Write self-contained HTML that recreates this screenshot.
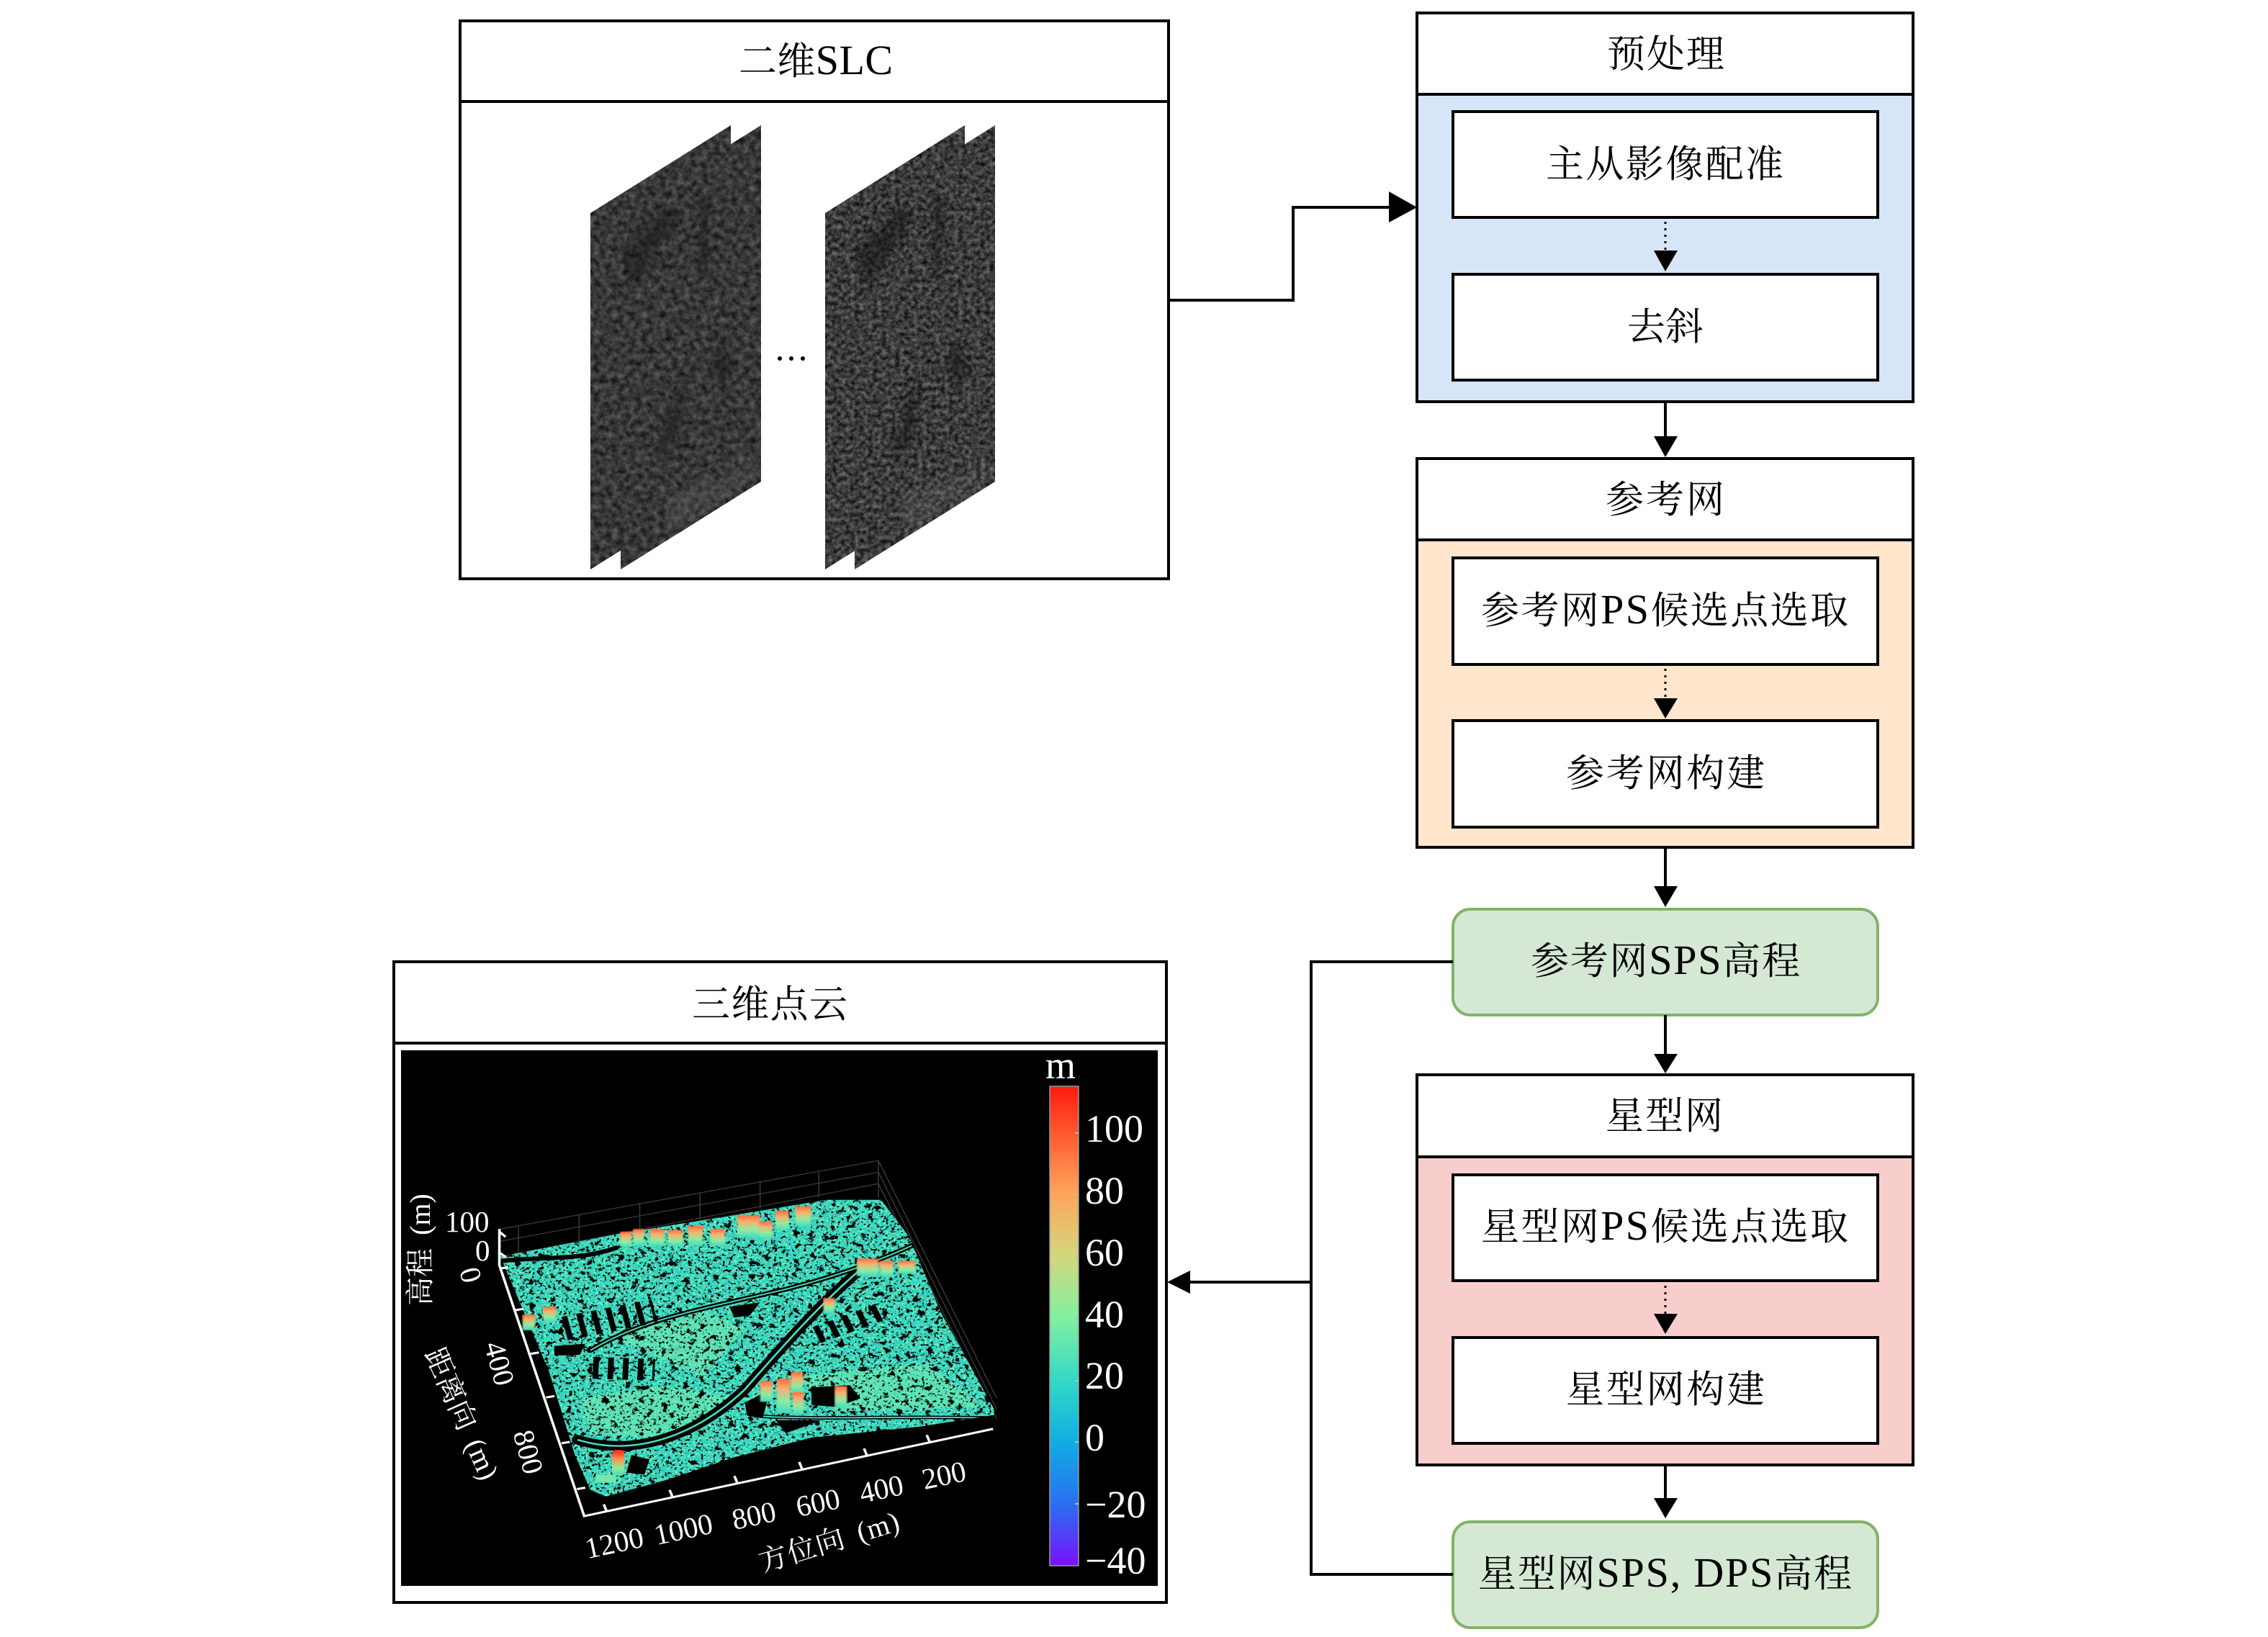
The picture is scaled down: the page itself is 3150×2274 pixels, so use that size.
<!DOCTYPE html>
<html>
<head>
<meta charset="utf-8">
<style>
html,body{margin:0;padding:0;background:#fff;width:3150px;height:2274px;overflow:hidden}
svg{display:block}
.t{font-family:"Liberation Serif","Noto Serif CJK SC",serif;font-size:53px;fill:#000}
.t tspan{font-size:58px}
.w{font-family:"Liberation Serif","Noto Serif CJK SC",serif;fill:#fff}
.b{fill:#fff;stroke:#000;stroke-width:4}
.l{fill:none;stroke:#000;stroke-width:4}
</style>
</head>
<body>
<svg width="3150" height="2274" viewBox="0 0 3150 2274" xmlns="http://www.w3.org/2000/svg">
<defs>
<filter id="sar1" x="0" y="0" width="1" height="1" color-interpolation-filters="sRGB">
<feTurbulence type="fractalNoise" baseFrequency="0.12" numOctaves="4" seed="7"/>
<feColorMatrix type="matrix" values=".4 0 0 0 .02  .4 0 0 0 .02  .4 0 0 0 .02  0 0 0 0 1"/>
</filter>
<filter id="sar2" x="0" y="0" width="1" height="1" color-interpolation-filters="sRGB">
<feTurbulence type="fractalNoise" baseFrequency="0.16" numOctaves="4" seed="11"/>
<feColorMatrix type="matrix" values=".55 0 0 0 -.04  .55 0 0 0 -.04  .55 0 0 0 -.04  0 0 0 0 1"/>
</filter>
<filter id="speck" x="0" y="0" width="1" height="1" color-interpolation-filters="sRGB">
<feTurbulence type="fractalNoise" baseFrequency="0.17" numOctaves="2" seed="5"/>
<feColorMatrix type="matrix" values="0 0 0 0 0  0 0 0 0 0  0 0 0 0 0  14 0 0 0 -8.7"/>
</filter>
<filter id="speck2" x="0" y="0" width="1" height="1" color-interpolation-filters="sRGB">
<feTurbulence type="fractalNoise" baseFrequency="0.07" numOctaves="4" seed="21"/>
<feColorMatrix type="matrix" values="0 0 0 0 0  0 0 0 0 0  0 0 0 0 0  12 0 0 0 -7.4"/>
</filter>
<filter id="tone" x="0" y="0" width="1" height="1" color-interpolation-filters="sRGB">
<feTurbulence type="fractalNoise" baseFrequency="0.2" numOctaves="2" seed="9"/>
<feColorMatrix type="matrix" values="0 0 0 0 0.5  0 0 0 0 0.95  0 0 0 0 0.68  5 0 0 0 -2.5"/>
</filter>
<filter id="soft" x="-20%" y="-20%" width="140%" height="140%"><feGaussianBlur stdDeviation="5"/></filter>
<filter id="mild" x="-20%" y="-20%" width="140%" height="140%"><feGaussianBlur stdDeviation="1.5"/></filter>
<clipPath id="p1"><polygon points="820,296 1015,174 1015,669 820,791"/></clipPath>
<clipPath id="p2"><polygon points="862,296 1057,174 1057,669 862,791"/></clipPath>
<clipPath id="p3"><polygon points="1146,296 1340,174 1340,669 1146,791"/></clipPath>
<clipPath id="p4"><polygon points="1187,296 1382,174 1382,669 1187,791"/></clipPath>
<clipPath id="surf"><polygon points="245,735 480,682 700,640 880,605 985,605 1040,690 1100,860 1205,1085 1205,1098 1060,1125 850,1150 700,1195 560,1250 450,1285 420,1270 390,1190 340,1000 290,860"/></clipPath>
<linearGradient id="cb" x1="0" y1="0" x2="0" y2="1">
<stop offset="0" stop-color="#ff1a0d"/><stop offset=".1" stop-color="#ff5a30"/><stop offset=".22" stop-color="#ffa35a"/><stop offset=".35" stop-color="#d4d67c"/><stop offset=".48" stop-color="#84f0a0"/><stop offset=".62" stop-color="#2fd8c8"/><stop offset=".74" stop-color="#10aee2"/><stop offset=".87" stop-color="#2a70f0"/><stop offset="1" stop-color="#7a10ff"/>
</linearGradient>
<linearGradient id="bd" x1="0" y1="0" x2="0" y2="1">
<stop offset="0" stop-color="#ff6a3a"/><stop offset=".3" stop-color="#f8b070"/><stop offset=".65" stop-color="#90ecA0"/><stop offset="1" stop-color="#40dcc0"/>
</linearGradient>
<linearGradient id="bdr" x1="0" y1="0" x2="0" y2="1">
<stop offset="0" stop-color="#ff2010"/><stop offset=".35" stop-color="#ff9050"/><stop offset=".7" stop-color="#90eca0"/><stop offset="1" stop-color="#40dcc0"/>
</linearGradient>
</defs>

<!-- 二维SLC -->
<rect class="b" x="639" y="29" width="984" height="775"/>
<line class="l" x1="639" y1="141" x2="1623" y2="141"/>
<text class="t" x="1026" y="103" textLength="214">二维<tspan>SLC</tspan></text>

<!-- SAR stacks -->
<g clip-path="url(#p1)"><rect x="820" y="174" width="195" height="617" filter="url(#sar1)"/></g>
<g clip-path="url(#p2)">
<rect x="862" y="174" width="195" height="617" filter="url(#sar1)"/>
<g fill="#141414" opacity=".45" filter="url(#soft)">
<polygon points="862,350 930,285 945,300 880,400"/>
<polygon points="972,275 985,275 982,390 972,380"/>
<polygon points="945,530 952,520 945,600 920,640 915,620"/>
<polygon points="1003,470 1020,510 1003,540 990,510"/>
</g>
<polygon points="925,690 1050,640 1050,660 930,745" fill="#777" opacity=".2" filter="url(#soft)"/>
</g>
<g clip-path="url(#p3)"><rect x="1146" y="174" width="194" height="617" filter="url(#sar2)"/></g>
<g clip-path="url(#p4)">
<rect x="1187" y="174" width="195" height="617" filter="url(#sar2)"/>
<g fill="#0e0e0e" opacity=".45" filter="url(#soft)">
<polygon points="1187,350 1255,285 1270,300 1205,400"/>
<polygon points="1297,275 1310,275 1307,390 1297,380"/>
<polygon points="1270,530 1277,520 1270,600 1245,640 1240,620"/>
<polygon points="1328,470 1345,510 1328,540 1315,510"/>
</g>
<polygon points="1250,690 1375,640 1375,660 1255,745" fill="#777" opacity=".2" filter="url(#soft)"/>
</g>
<circle cx="1083" cy="498" r="3"/><circle cx="1099" cy="498" r="3"/><circle cx="1115" cy="498" r="3"/>

<!-- connector SLC to 预处理 -->
<polyline class="l" points="1623,417 1796,417 1796,288 1935,288"/>
<polygon points="1968,288 1929,266 1929,309"/>

<!-- 预处理 -->
<rect x="1968" y="130" width="689" height="428" fill="#d6e6f8"/>
<rect class="b" x="1968" y="18" width="689" height="113"/>
<rect x="1968" y="18" width="689" height="540" fill="none" stroke="#000" stroke-width="4"/>
<rect class="b" x="2018" y="155" width="590" height="147"/>
<rect class="b" x="2018" y="381" width="590" height="147"/>
<text class="t" x="2232" y="93" textLength="163">预处理</text>
<text class="t" x="2147" y="246" textLength="330">主从影像配准</text>
<text class="t" x="2260" y="472" textLength="106">去斜</text>
<line x1="2313" y1="308" x2="2313" y2="350" stroke="#000" stroke-width="3" stroke-dasharray="3 6"/>
<polygon points="2313,377 2297,348 2330,348"/>
<line class="l" x1="2313" y1="558" x2="2313" y2="610"/>
<polygon points="2313,635 2297,606 2330,606"/>

<!-- 参考网 -->
<rect x="1968" y="749" width="689" height="428" fill="#ffe6cc"/>
<rect class="b" x="1968" y="637" width="689" height="113"/>
<rect x="1968" y="637" width="689" height="540" fill="none" stroke="#000" stroke-width="4"/>
<rect class="b" x="2018" y="775" width="590" height="148"/>
<rect class="b" x="2018" y="1001" width="590" height="148"/>
<text class="t" x="2230" y="712" textLength="165">参考网</text>
<text class="t" x="2057" y="866" textLength="510">参考网<tspan>PS</tspan>候选点选取</text>
<text class="t" x="2175" y="1092" textLength="276">参考网构建</text>
<line x1="2313" y1="929" x2="2313" y2="972" stroke="#000" stroke-width="3" stroke-dasharray="3 6"/>
<polygon points="2313,998 2297,970 2330,970"/>
<line class="l" x1="2313" y1="1178" x2="2313" y2="1235"/>
<polygon points="2313,1260 2297,1231 2330,1231"/>

<!-- 参考网SPS高程 -->
<rect x="2018" y="1263" width="590" height="147" rx="24" ry="24" fill="#d5e8d4" stroke="#82b366" stroke-width="4"/>
<text class="t" x="2126" y="1353" textLength="374">参考网<tspan>SPS</tspan>高程</text>
<line class="l" x1="2313" y1="1410" x2="2313" y2="1468"/>
<polygon points="2313,1491 2297,1464 2330,1464"/>

<!-- 星型网 -->
<rect x="1968" y="1607" width="689" height="428" fill="#f8cecc"/>
<rect class="b" x="1968" y="1493" width="689" height="114"/>
<rect x="1968" y="1493" width="689" height="542" fill="none" stroke="#000" stroke-width="4"/>
<rect class="b" x="2018" y="1632" width="590" height="147"/>
<rect class="b" x="2018" y="1858" width="590" height="147"/>
<text class="t" x="2230" y="1568" textLength="163">星型网</text>
<text class="t" x="2057" y="1722" textLength="510">星型网<tspan>PS</tspan>候选点选取</text>
<text class="t" x="2175" y="1948" textLength="276">星型网构建</text>
<line x1="2313" y1="1786" x2="2313" y2="1827" stroke="#000" stroke-width="3" stroke-dasharray="3 6"/>
<polygon points="2313,1853 2297,1825 2330,1825"/>
<line class="l" x1="2313" y1="2035" x2="2313" y2="2085"/>
<polygon points="2313,2109 2297,2081 2330,2081"/>

<!-- 星型网SPS -->
<rect x="2018" y="2114" width="590" height="147" rx="24" ry="24" fill="#d5e8d4" stroke="#82b366" stroke-width="4"/>
<text class="t" x="2053" y="2204" textLength="519">星型网<tspan>SPS, DPS</tspan>高程</text>

<!-- connectors to point cloud -->
<polyline class="l" points="2018,1336 1821,1336 1821,2187 2018,2187"/>
<line class="l" x1="1821" y1="1781" x2="1650" y2="1781"/>
<polygon points="1621,1781 1653,1765 1653,1797"/>

<!-- 三维点云 -->
<rect class="b" x="547" y="1336" width="1073" height="890"/>
<line class="l" x1="547" y1="1449" x2="1620" y2="1449"/>
<text class="t" x="961" y="1413" textLength="216">三维点云</text>
<rect x="557" y="1459" width="1051" height="744" fill="#000"/>

<!-- point cloud plot (zoom space) -->
<g transform="translate(520,1300) scale(.7142857,.60606)">
<g stroke="#3c3c3c" stroke-width="2" fill="none">
<polyline points="245,672 980,515 980,600"/>
<line x1="245" y1="700" x2="980" y2="542"/>
<line x1="245" y1="735" x2="980" y2="568"/>
<line x1="980" y1="515" x2="1210" y2="1060"/>
<line x1="980" y1="542" x2="1210" y2="1085"/>
<line x1="980" y1="568" x2="1210" y2="1108"/>
<line x1="280" y1="664" x2="280" y2="730"/><line x1="398" y1="640" x2="398" y2="705"/><line x1="516" y1="612" x2="516" y2="680"/><line x1="633" y1="588" x2="633" y2="650"/><line x1="750" y1="562" x2="750" y2="625"/><line x1="864" y1="538" x2="864" y2="600"/>
</g>
<g clip-path="url(#surf)">
<rect x="240" y="600" width="970" height="690" fill="#30d2c4"/>
<rect x="240" y="600" width="970" height="690" filter="url(#tone)"/>
<g fill="#70eab0" opacity=".6">
<polygon points="400,1060 560,1030 700,1060 660,1100 560,1150 420,1140"/>
<polygon points="450,920 640,860 720,900 640,1010 540,960"/>
<polygon points="820,1010 1080,980 1180,1080 900,1090"/>
</g>
<rect x="240" y="600" width="970" height="690" filter="url(#speck)"/>
<rect x="240" y="600" width="970" height="690" filter="url(#speck2)"/>
<g fill="none" stroke="#000" stroke-linecap="round">
<path d="M395,1155 C520,1200 640,1130 720,1040 C780,960 860,850 945,765" stroke-width="22"/>
<path d="M420,950 C520,880 620,860 800,810 C900,780 980,745 1045,710" stroke-width="11"/>
<path d="M740,1100 C850,1110 1000,1100 1200,1105" stroke-width="8"/>
<path d="M250,745 C320,735 400,745 470,715" stroke-width="10"/>
</g>
<g fill="none" stroke="#45e0c0">
<path d="M395,1155 C520,1200 640,1130 720,1040 C780,960 860,850 945,765" stroke-width="4"/>
<path d="M420,950 C520,880 620,860 800,810 C900,780 980,745 1045,710" stroke-width="3"/>
<path d="M740,1100 C850,1110 1000,1100 1200,1105" stroke-width="3"/>
</g>
<g stroke="#000" fill="none">
<line x1="370" y1="900" x2="545" y2="860" stroke-width="55" stroke-dasharray="11 18"/>
<line x1="425" y1="990" x2="545" y2="995" stroke-width="50" stroke-dasharray="11 18"/>
<line x1="860" y1="915" x2="990" y2="860" stroke-width="40" stroke-dasharray="12 18"/>
</g>
<g fill="#000">
<polygon points="720,1070 770,1040 755,1105 725,1100"/>
<polygon points="850,1035 925,1030 945,1060 900,1080 850,1075"/>
<polygon points="780,1110 870,1110 800,1140"/>
<polygon points="690,850 750,840 730,870 700,875"/>
<polygon points="500,1190 535,1200 525,1235 490,1230"/>
<polygon points="350,940 410,935 400,960 350,962"/>
</g>
</g>
<g fill="url(#bd)" filter="url(#mild)">
<rect x="478" y="678" width="22" height="36"/><rect x="503" y="672" width="22" height="38"/><rect x="535" y="672" width="29" height="40"/><rect x="571" y="674" width="29" height="38"/><rect x="610" y="665" width="29" height="46"/><rect x="653" y="672" width="29" height="40"/><rect x="706" y="640" width="44" height="52"/><rect x="748" y="655" width="26" height="40"/><rect x="780" y="630" width="26" height="46"/><rect x="818" y="620" width="32" height="46"/>
<rect x="938" y="740" width="42" height="40"/><rect x="983" y="745" width="26" height="36"/><rect x="1018" y="745" width="34" height="30"/><rect x="873" y="830" width="22" height="36"/>
<rect x="750" y="1020" width="24" height="48"/><rect x="783" y="1015" width="26" height="78"/><rect x="810" y="1000" width="24" height="48"/><rect x="813" y="1045" width="22" height="52"/><rect x="895" y="1032" width="24" height="50"/>
<rect x="288" y="868" width="24" height="36"/><rect x="328" y="850" width="26" height="36"/>
</g>
<rect x="462" y="1178" width="24" height="60" rx="8" fill="url(#bdr)"/>
<rect x="430" y="1235" width="40" height="18" fill="#70e8b0"/>
<g stroke="#fff" stroke-width="5" fill="none">
<polyline points="243,672 243,755 408,1330 1203,1130"/>
<line x1="452" y1="1320" x2="446" y2="1303"/><line x1="580" y1="1287" x2="574" y2="1270"/><line x1="706" y1="1255" x2="700" y2="1238"/><line x1="832" y1="1223" x2="826" y2="1206"/><line x1="958" y1="1192" x2="952" y2="1175"/><line x1="1080" y1="1161" x2="1074" y2="1144"/>
<line x1="260" y1="760" x2="245" y2="762"/><line x1="290" y1="855" x2="274" y2="858"/><line x1="320" y1="955" x2="304" y2="958"/><line x1="350" y1="1055" x2="334" y2="1058"/><line x1="380" y1="1160" x2="364" y2="1163"/><line x1="410" y1="1265" x2="394" y2="1268"/>
<line x1="243" y1="678" x2="255" y2="690"/><line x1="243" y1="726" x2="255" y2="736"/>
</g>
</g>

<!-- plot labels -->
<g class="w" font-size="41">
<text x="618" y="1711">100</text>
<text x="660" y="1751">0</text>
<text transform="translate(597,1736) rotate(-90)" text-anchor="middle" font-size="40" word-spacing="8">高程 (m)</text>
<text transform="translate(654,1771) rotate(75)" text-anchor="middle" dy="14">0</text>
<text transform="translate(694,1894) rotate(75)" text-anchor="middle" dy="14">400</text>
<text transform="translate(734,2017) rotate(75)" text-anchor="middle" dy="14">800</text>
<text transform="translate(641,1964) rotate(66)" text-anchor="middle" dy="13" font-size="40" word-spacing="8">距离向 (m)</text>
<text transform="translate(853,2143) rotate(-12)" text-anchor="middle" dy="14">1200</text>
<text transform="translate(949,2124) rotate(-12)" text-anchor="middle" dy="14">1000</text>
<text transform="translate(1047,2105) rotate(-12)" text-anchor="middle" dy="14">800</text>
<text transform="translate(1136,2087) rotate(-12)" text-anchor="middle" dy="14">600</text>
<text transform="translate(1224,2068) rotate(-12)" text-anchor="middle" dy="14">400</text>
<text transform="translate(1311,2049) rotate(-12)" text-anchor="middle" dy="14">200</text>
<text transform="translate(1152,2142) rotate(-17)" text-anchor="middle" dy="13" font-size="40" word-spacing="8" letter-spacing="1">方位向 (m)</text>
</g>

<!-- colour bar -->
<rect x="1458" y="1509" width="40" height="666" fill="url(#cb)" stroke="#999" stroke-width="1.5"/>
<g stroke="#bbb" stroke-width="2">
<line x1="1493" y1="1574" x2="1498" y2="1574"/><line x1="1493" y1="1660" x2="1498" y2="1660"/><line x1="1493" y1="1747" x2="1498" y2="1747"/><line x1="1493" y1="1833" x2="1498" y2="1833"/><line x1="1493" y1="1918" x2="1498" y2="1918"/><line x1="1493" y1="2003" x2="1498" y2="2003"/><line x1="1493" y1="2089" x2="1498" y2="2089"/>
</g>
<g class="w" font-size="54">
<text x="1452" y="1498" font-size="54">m</text>
<text x="1507" y="1586">100</text>
<text x="1507" y="1672">80</text>
<text x="1507" y="1758">60</text>
<text x="1507" y="1844">40</text>
<text x="1507" y="1929">20</text>
<text x="1507" y="2015">0</text>
<text x="1507" y="2108">−20</text>
<text x="1507" y="2186">−40</text>
</g>
</svg>
</body>
</html>
